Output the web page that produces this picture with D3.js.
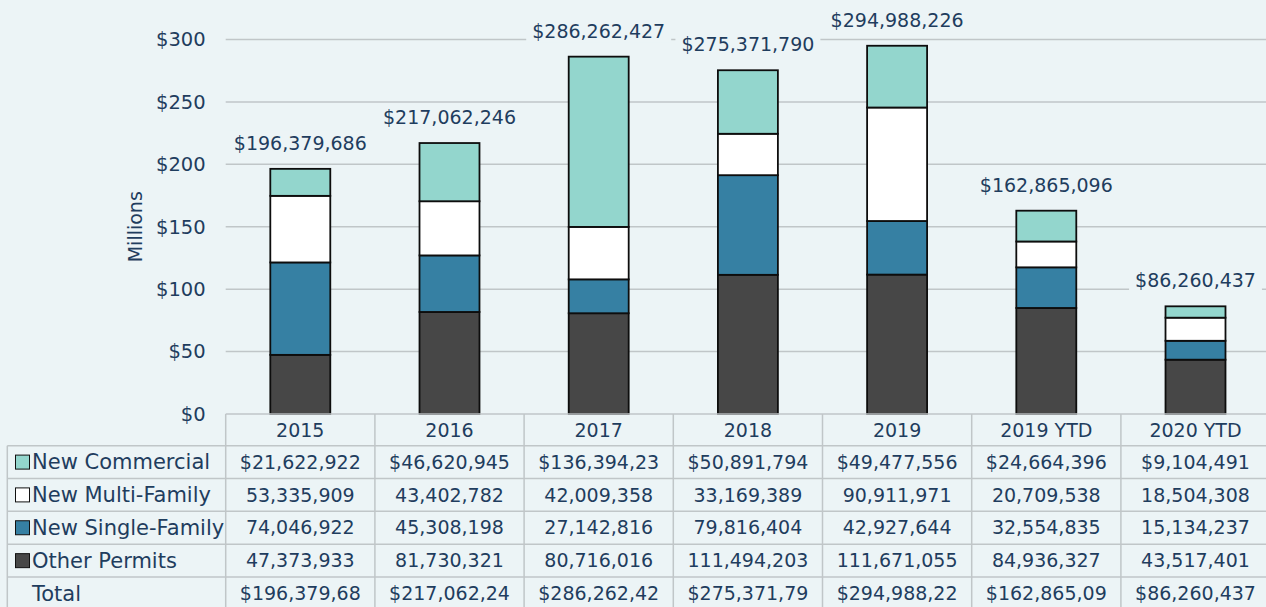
<!DOCTYPE html>
<html>
<head>
<meta charset="utf-8">
<script src="https://cdn.jsdelivr.net/npm/d3@7"></script>
<style>
  body { margin: 0; background: #ecf4f6; }
  svg { display: block; font-family: "DejaVu Sans", sans-serif; }
</style>
</head>
<body>
<div class="chart"></div>
<script>
var categories = ["2015", "2016", "2017", "2018", "2019", "2019 YTD", "2020 YTD"];
var commercial = [21622922, 46620945, 136394237, 50891794, 49477556, 24664396, 9104491];
var multiFamily = [53335909, 43402782, 42009358, 33169389, 90911971, 20709538, 18504308];
var singleFamily = [74046922, 45308198, 27142816, 79816404, 42927644, 32554835, 15134237];
var otherPermits = [47373933, 81730321, 80716016, 111494203, 111671055, 84936327, 43517401];
var yTicks = [0, 50, 100, 150, 200, 250, 300];

var svgWidth = 1266;
var svgHeight = 607;
var textColor = "#1f3d5e";
var gridColor = "#c0c6c8";

// series listed in table order (top to bottom); stacking goes the other way
var series = [
    { key: "New Commercial", values: commercial, color: "#93d6cd" },
    { key: "New Multi-Family", values: multiFamily, color: "#ffffff" },
    { key: "New Single-Family", values: singleFamily, color: "#3680a3" },
    { key: "Other Permits", values: otherPermits, color: "#474747" }
];

var rows = categories.map(function (c, i) {
    var r = { category: c };
    series.forEach(function (s) { r[s.key] = s.values[i] / 1e6; });
    r.total = d3.sum(series, s => s.values[i]);
    return r;
});

var plotLeft = 225.7;
var plotRight = plotLeft + 7 * 149.2;
var plotTop = 39.5;
var plotBottom = 414;

var svg = d3.select(".chart")
    .append("svg")
    .attr("width", svgWidth)
    .attr("height", svgHeight);

svg.append("rect")
    .attr("width", svgWidth)
    .attr("height", svgHeight)
    .attr("fill", "#ecf4f6");

var x = d3.scaleBand()
    .domain(categories)
    .range([plotLeft, plotRight])
    .paddingInner(0.598)
    .paddingOuter(0.299);

var y = d3.scaleLinear()
    .domain([0, 300])
    .range([plotBottom, plotTop]);

// gridlines
svg.append("g")
    .selectAll("line")
    .data(yTicks.slice(1))
    .enter()
    .append("line")
    .attr("x1", plotLeft)
    .attr("x2", svgWidth)
    .attr("y1", d => y(d))
    .attr("y2", d => y(d))
    .attr("stroke", gridColor)
    .attr("stroke-width", 1.5);

// y axis labels
var yAxis = svg.append("g")
    .attr("transform", `translate(${plotLeft}, 0)`)
    .call(d3.axisLeft(y).tickValues(yTicks).tickFormat(d => "$" + d).tickSize(0).tickPadding(20));
yAxis.select(".domain").remove();
yAxis.selectAll("text")
    .attr("fill", textColor)
    .attr("font-size", 19.5)
    .attr("font-family", "DejaVu Sans, sans-serif");

svg.append("text")
    .attr("transform", `translate(142, ${(plotTop + plotBottom) / 2}) rotate(-90)`)
    .attr("text-anchor", "middle")
    .attr("fill", textColor)
    .attr("font-size", 19)
    .text("Millions");

// stacked bars
var stackKeys = series.map(s => s.key).reverse();
var stacked = d3.stack().keys(stackKeys)(rows);
var colorOf = {};
series.forEach(s => { colorOf[s.key] = s.color; });

svg.append("g")
    .selectAll("g")
    .data(stacked)
    .enter()
    .append("g")
    .attr("fill", d => colorOf[d.key])
    .selectAll("rect")
    .data(d => d)
    .enter()
    .append("rect")
    .attr("x", d => x(d.data.category))
    .attr("y", d => y(d[1]))
    .attr("width", x.bandwidth())
    .attr("height", d => y(d[0]) - y(d[1]))
    .attr("stroke", "#0d0d0d")
    .attr("stroke-width", 1.8);

// total labels with background box
var fmt = d3.format("$,");
var labels = svg.append("g")
    .selectAll("g")
    .data(rows)
    .enter()
    .append("g")
    .attr("transform", d => `translate(${x(d.category) + x.bandwidth() / 2}, ${y(d.total / 1e6) - 19})`);

labels.append("text")
    .attr("text-anchor", "middle")
    .attr("fill", textColor)
    .attr("font-size", 19)
    .text(d => fmt(d.total));

labels.each(function () {
    var g = d3.select(this);
    var bb = g.select("text").node().getBBox();
    g.insert("rect", "text")
        .attr("x", bb.x - 6)
        .attr("y", bb.y - 1)
        .attr("width", bb.width + 12)
        .attr("height", bb.height + 2)
        .attr("fill", "#ecf4f6");
});

// data table
var rowTop = [plotBottom, 445.7, 478.5, 511.3, 544.2, 577.1, 610];
var step = x.step();
var colEdges = categories.map((c, i) => plotLeft + i * step);
var table = svg.append("g");

// horizontal lines
table.append("line")
    .attr("x1", plotLeft).attr("x2", svgWidth)
    .attr("y1", plotBottom).attr("y2", plotBottom)
    .attr("stroke", gridColor).attr("stroke-width", 1.5);
table.selectAll("line.h")
    .data(rowTop.slice(1, 6))
    .enter()
    .append("line")
    .attr("class", "h")
    .attr("x1", 7.3).attr("x2", svgWidth)
    .attr("y1", d => d).attr("y2", d => d)
    .attr("stroke", gridColor).attr("stroke-width", 1.5);

// vertical lines
table.selectAll("line.v")
    .data(colEdges)
    .enter()
    .append("line")
    .attr("class", "v")
    .attr("x1", d => d).attr("x2", d => d)
    .attr("y1", plotBottom).attr("y2", svgHeight)
    .attr("stroke", gridColor).attr("stroke-width", 1.5);
table.append("line")
    .attr("x1", 7.3).attr("x2", 7.3)
    .attr("y1", rowTop[1]).attr("y2", svgHeight)
    .attr("stroke", gridColor).attr("stroke-width", 1.5);

// header row (category names)
table.selectAll("text.head")
    .data(categories)
    .enter()
    .append("text")
    .attr("class", "head")
    .attr("x", d => x(d) + x.bandwidth() / 2)
    .attr("y", (rowTop[0] + rowTop[1]) / 2)
    .attr("dy", "0.35em")
    .attr("text-anchor", "middle")
    .attr("fill", textColor)
    .attr("font-size", 19)
    .text(d => d);

// Excel clips long cells, keep 11 chars
var tableRows = series.map((s, i) => ({
    label: s.key,
    color: s.color,
    cells: s.values.map(v => (i === 0 ? fmt(v) : d3.format(",")(v)).slice(0, 11))
}));
tableRows.push({
    label: "Total",
    color: null,
    cells: rows.map(r => fmt(r.total).slice(0, 11))
});

var tr = table.selectAll("g.row")
    .data(tableRows)
    .enter()
    .append("g")
    .attr("class", "row")
    .attr("transform", (d, i) => `translate(0, ${(rowTop[i + 1] + rowTop[i + 2]) / 2})`);

tr.filter(d => d.color)
    .append("rect")
    .attr("x", 15.5)
    .attr("y", -7)
    .attr("width", 14)
    .attr("height", 14)
    .attr("fill", d => d.color)
    .attr("stroke", "#111")
    .attr("stroke-width", 1);

tr.append("text")
    .attr("x", 32)
    .attr("dy", "0.35em")
    .attr("fill", textColor)
    .attr("font-size", 21)
    .text(d => d.label);

tr.selectAll("text.cell")
    .data(d => d.cells)
    .enter()
    .append("text")
    .attr("class", "cell")
    .attr("x", (d, i) => x(categories[i]) + x.bandwidth() / 2)
    .attr("dy", "0.35em")
    .attr("text-anchor", "middle")
    .attr("fill", textColor)
    .attr("font-size", 19)
    .text(d => d);
</script>
</body>
</html>
